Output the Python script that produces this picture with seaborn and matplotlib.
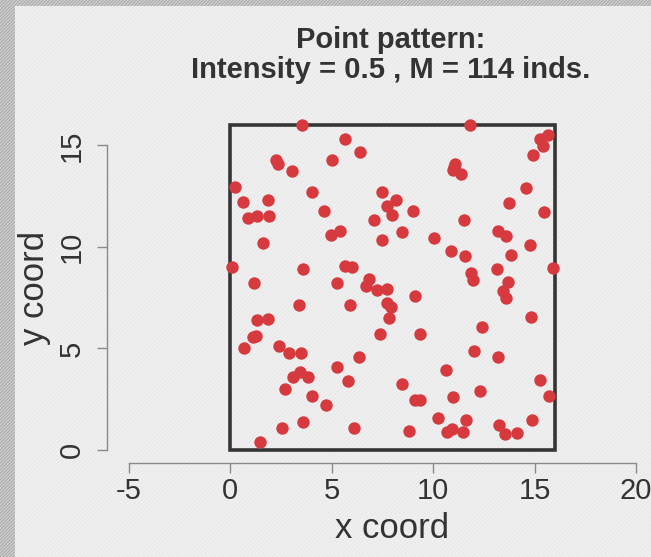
import matplotlib
matplotlib.use("Agg")
import matplotlib.pyplot as plt
from matplotlib.patches import Rectangle
import pandas as pd
import seaborn as sns

# punkty (okno 16 x 16)
x_coord = [3.53, 5.67, 6.40, 2.27, 2.38, 3.04, 5.04, 0.25, 0.66, 1.89,
           4.05, 7.47, 7.72, 8.18, 7.97, 7.09, 7.47, 0.90, 1.35, 1.94,
           4.61, 4.98, 5.42, 1.61, 0.08, 3.58, 5.67, 6.00, 1.18, 5.25,
           6.85, 6.70, 7.26, 7.72, 7.72, 7.91, 7.85, 3.40, 5.91, 1.31,
           1.89, 1.15, 1.28, 0.69, 7.39, 2.43, 2.91, 3.50, 6.37, 5.25,
           3.12, 3.45, 3.86, 5.83, 2.71, 4.02, 4.73, 3.61, 2.58, 6.12,
           1.48, 11.82, 15.68, 15.27, 15.43, 14.94, 11.08, 11.00, 11.38, 14.56,
           13.74, 15.47, 9.03, 11.53, 8.49, 10.05, 13.22, 13.58, 14.78, 10.89,
           11.58, 13.84, 15.88, 13.17, 11.87, 11.94, 13.68, 13.46, 13.58, 9.11,
           14.83, 12.40, 9.36, 12.03, 13.19, 10.64, 8.49, 15.27, 9.11, 9.36,
           11.00, 12.32, 15.73, 10.26, 11.60, 14.89, 10.67, 10.92, 11.49, 13.25,
           13.55, 14.12, 8.82, 11.05]
y_coord = [16.00, 15.30, 14.66, 14.30, 14.10, 13.75, 14.26, 12.94, 12.22, 12.32,
           12.69, 12.70, 12.02, 12.32, 11.57, 11.31, 10.35, 11.44, 11.51, 11.51,
           11.76, 10.60, 10.78, 10.20, 9.03, 8.92, 9.08, 9.03, 8.21, 8.20,
           8.40, 8.05, 7.88, 7.95, 7.25, 7.05, 6.50, 7.13, 7.16, 6.42,
           6.47, 5.56, 5.62, 5.01, 5.71, 5.13, 4.76, 4.79, 4.59, 4.10,
           3.60, 3.85, 3.57, 3.38, 3.00, 2.64, 2.22, 1.36, 1.06, 1.06,
           0.40, 16.00, 15.50, 15.30, 14.96, 14.50, 14.10, 13.80, 13.60, 12.89,
           12.14, 11.72, 11.77, 11.34, 10.71, 10.45, 10.78, 10.56, 10.10, 9.82,
           9.57, 9.60, 8.96, 8.92, 8.70, 8.36, 8.25, 7.83, 7.47, 7.59,
           6.55, 6.05, 5.72, 4.89, 4.59, 3.96, 3.27, 3.43, 2.44, 2.44,
           2.60, 2.90, 2.64, 1.56, 1.48, 1.48, 0.91, 1.03, 0.91, 1.23,
           0.81, 0.86, 0.95, 13.95]

window_size = 16
intensity = 0.5
x_ticks = [-5, 0, 5, 10, 15, 20]
y_ticks = [0, 5, 10, 15]

df = pd.DataFrame({"x": x_coord, "y": y_coord})

sns.set_style("ticks")
plt.rcParams["font.family"] = ["Liberation Sans", "DejaVu Sans"]
plt.rcParams["axes.unicode_minus"] = False
plt.rcParams["hatch.linewidth"] = 0.8

W, H = 651, 557
fig = plt.figure(figsize=(W / 100, H / 100), dpi=100)
fig.patch.set_facecolor("#f0f0f0")

# tlo w paski
fig.add_artist(Rectangle((0, 0), 1, 1, transform=fig.transFigure, facecolor="none",
                         edgecolor="#e8e8e8", hatch="/" * 8, linewidth=0, zorder=-5))
fig.add_artist(Rectangle((0, 0), 15 / W, 1, transform=fig.transFigure, facecolor="#d0d0d0",
                         edgecolor="#ababab", hatch="/" * 10, linewidth=0, zorder=-4))
fig.add_artist(Rectangle((15 / W, 1 - 6 / H), 1, 6 / H, transform=fig.transFigure,
                         facecolor="#d0d0d0", edgecolor="#ababab", hatch="/" * 10,
                         linewidth=0, zorder=-4))

# osie ustawione tak, zeby 1 jednostka = ok. 20.3 px
ax = fig.add_axes([107 / W, (H - 463) / H, 571 / W, 351 / H])
ax.patch.set_alpha(0)
ax.set_xlim(-6.06, 22.06)
ax.set_ylim(-0.64, 16.64)

ax.add_patch(Rectangle((0, 0), window_size, window_size, facecolor="none",
                       edgecolor="#353535", linewidth=2.6, zorder=1))
sns.scatterplot(data=df, x="x", y="y", ax=ax, color="#d63a3f", s=80,
                linewidth=0, zorder=2, clip_on=False)

for side in ["top", "right"]:
    ax.spines[side].set_visible(False)
ax.spines["left"].set_bounds(0, 15)
ax.spines["bottom"].set_bounds(-5, 20)
for side in ["left", "bottom"]:
    ax.spines[side].set_color("#8a8a8a")
    ax.spines[side].set_linewidth(1.0)

ax.set_xticks(x_ticks)
ax.set_yticks(y_ticks)
ax.tick_params(axis="both", length=7, width=1.0, color="#8a8a8a",
               labelsize=21, labelcolor="#333333")
ax.tick_params(axis="x", pad=3)
ax.tick_params(axis="y", pad=8)
for lab in ax.get_yticklabels():
    lab.set_rotation(90)
    lab.set_va("center")

ax.set_xlabel("x coord", fontsize=25, color="#333333", labelpad=5)
ax.set_ylabel("y coord", fontsize=25, color="#333333", labelpad=5)

fig.text(391 / W, 1 - 26 / H,
         "Point pattern:\nIntensity = %s , M = %d inds." % (intensity, len(x_coord)),
         ha="center", va="top", fontsize=21, fontweight="bold", color="#333333",
         linespacing=1.1)

fig.savefig("out.png", dpi=100)
